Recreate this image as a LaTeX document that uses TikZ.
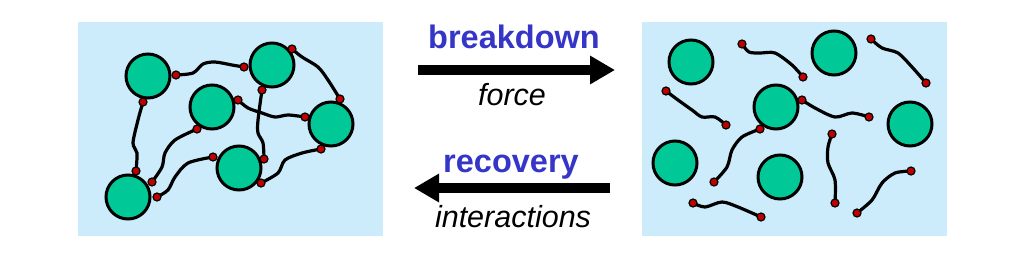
\documentclass[tikz,border=0pt]{standalone}
\usepackage{fontspec}
\setmainfont{Liberation Sans}
\usetikzlibrary{arrows.meta}
\definecolor{panelbg}{HTML}{CCEBFB}
\definecolor{partfill}{HTML}{00C896}
\definecolor{dotred}{HTML}{C00000}
\definecolor{titleblue}{HTML}{3535C8}
\tikzset{
  panel/.style={fill=panelbg, draw=none},
  particle/.style={circle, fill=partfill, draw=black, line width=3pt, minimum size=44pt, inner sep=0pt},
  bead/.style={circle, fill=dotred, draw=black, line width=1.2pt, minimum size=8pt, inner sep=0pt},
  strand/.style={draw=black, line width=3.2pt, line cap=round},
  bigarrow/.style={line width=10pt, -{Triangle[length=25pt,width=27pt]}},
  title/.style={text=titleblue, font=\fontsize{32.5}{36}\selectfont\bfseries, anchor=base},
  sub/.style={text=black, font=\fontsize{30.5}{36}\selectfont\itshape, anchor=base}
}
\begin{document}
\begin{tikzpicture}[x=1pt,y=-1pt]
\useasboundingbox (0,0) rectangle (1024,260);
\fill[white] (0,0) rectangle (1024,260);
% panels
\path[panel] (78,22) rectangle (383,236);
\path[panel] (642,22) rectangle (947,236);

% ---------- left panel: network ----------
\node[particle] (C1) at (148,76) {};
\node[particle] (C2) at (272,65) {};
\node[particle] (C3) at (212,107) {};
\node[particle] (C4) at (331,124) {};
\node[particle] (C5) at (239,168) {};
\node[particle] (C6) at (128,197) {};

\coordinate (a) at (176,75);
\coordinate (b) at (143,102);
\coordinate (c) at (244,67);
\coordinate (d) at (292,49);
\coordinate (e) at (262,90);
\coordinate (f) at (238,100);
\coordinate (g) at (197,129);
\coordinate (h) at (340,99);
\coordinate (i) at (305,117);
\coordinate (j) at (321,149);
\coordinate (k) at (213,157);
\coordinate (l) at (264,159);
\coordinate (m) at (261,183);
\coordinate (n) at (136,171);
\coordinate (o) at (152,182);
\coordinate (p) at (157,197);

\draw[strand] plot[smooth] coordinates {(a) (193,73) (203,64) (215,62) (232,65) (c)};
\draw[strand] plot[smooth] coordinates {(d) (302,57) (318,67) (328,80) (h)};
\draw[strand] plot[smooth] coordinates {(b) (138,120) (133,143) (137,153) (n)};
\draw[strand] plot[smooth] coordinates {(f) (248,108) (262,113) (275,117) (288,115) (i)};
\draw[strand] plot[smooth] coordinates {(e) (258,120) (258,133) (263,143) (l)};
\draw[strand] plot[smooth] coordinates {(g) (175,140) (165,153) (162,167) (o)};
\draw[strand] plot[smooth] coordinates {(k) (188,163) (175,177) (168,190) (p)};
\draw[strand] plot[smooth] coordinates {(j) (302,153) (285,160) (278,173) (m)};

\foreach \q in {a,b,c,d,e,f,g,h,i,j,k,l,m,n,o,p}
  \node[bead] (bead-\q) at (\q) {};

% ---------- right panel: broken ----------
\node[particle] (R1) at (691,62) {};
\node[particle] (R2) at (834,53) {};
\node[particle] (R3) at (776,107) {};
\node[particle] (R4) at (910,124) {};
\node[particle] (R5) at (675,163) {};
\node[particle] (R6) at (780,177) {};

\coordinate (s1a) at (742,44);  \coordinate (s1b) at (803,77);
\coordinate (s2a) at (871,39);  \coordinate (s2b) at (926,83);
\coordinate (s3a) at (666,91);  \coordinate (s3b) at (726,125);
\coordinate (s4a) at (802,100); \coordinate (s4b) at (869,117);
\coordinate (s5a) at (760,129); \coordinate (s5b) at (714,182);
\coordinate (s6a) at (832,134); \coordinate (s6b) at (835,203);
\coordinate (s7a) at (911,171); \coordinate (s7b) at (857,213);
\coordinate (s8a) at (693,203); \coordinate (s8b) at (761,217);

\draw[strand] plot[smooth] coordinates {(s1a) (749,52) (760,53) (775,53) (792,65) (s1b)};
\draw[strand] plot[smooth] coordinates {(s2a) (882,48) (898,53) (912,67) (s2b)};
\draw[strand] plot[smooth] coordinates {(s3a) (678,100) (692,110) (702,117) (715,117) (s3b)};
\draw[strand] plot[smooth] coordinates {(s4a) (815,108) (835,117) (852,113) (s4b)};
\draw[strand] plot[smooth] coordinates {(s5a) (742,137) (732,150) (727,167) (s5b)};
\draw[strand] plot[smooth] coordinates {(s6a) (828,147) (828,163) (835,180) (s6b)};
\draw[strand] plot[smooth] coordinates {(s7a) (895,173) (882,183) (872,200) (s7b)};
\draw[strand] plot[smooth] coordinates {(s8a) (705,207) (722,202) (738,207) (s8b)};

\foreach \q in {s1a,s1b,s2a,s2b,s3a,s3b,s4a,s4b,s5a,s5b,s6a,s6b,s7a,s7b,s8a,s8b}
  \node[bead] (bead-\q) at (\q) {};

% ---------- arrows and labels ----------
\coordinate (bd-start) at (418,70);
\coordinate (bd-end) at (615,70);
\coordinate (rc-start) at (610,188);
\coordinate (rc-end) at (414,188);
\draw[bigarrow] (bd-start) -- (bd-end);
\draw[bigarrow] (rc-start) -- (rc-end);

\node[title] (breakdown) at (514,48) {breakdown};
\node[sub] (force) at (512,105) {force};
\node[title] (recovery) at (511,172) {recovery};
\node[sub] (interactions) at (513,227) {interactions};
\end{tikzpicture}
\end{document}
